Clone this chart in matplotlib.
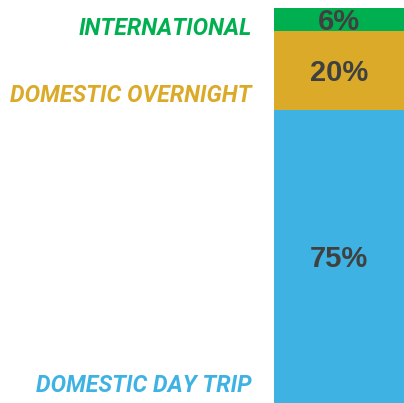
import matplotlib.pyplot as plt

categories = ["DOMESTIC DAY TRIP", "DOMESTIC OVERNIGHT", "INTERNATIONAL"]
values = [75, 20, 6]
pct_labels = ["75%", "20%", "6%"]
colors = ["#3EB3E3", "#DAAA28", "#00B050"]

fig = plt.figure(figsize=(4.04, 4.03), dpi=100)
ax = fig.add_axes([274 / 404, 0, 130 / 404, 395 / 403])

bottom = 0
bottoms = []
for v, c in zip(values, colors):
    ax.bar(0, v, bottom=bottom, width=1, color=c)
    bottoms.append(bottom)
    bottom += v

ax.set_xlim(-0.5, 0.5)
ax.set_ylim(0, sum(values))
ax.axis("off")

# percent labels centred in each segment
for b, v, lab in zip(bottoms, values, pct_labels):
    ax.text(0, b + v / 2 - 0.6, lab, ha="center", va="center", fontsize=21,
            fontweight="bold", color="#404040", family="Liberation Sans")

# category labels to the left of the bar
label_offsets = [2.8, 2.0, -0.9]
for b, off, cat, c in zip(bottoms, label_offsets, categories, colors):
    ax.text(-0.67, b + off, cat, ha="right", va="baseline", fontsize=16.7,
            fontweight="bold", fontstyle="italic", color=c, family="Roboto",
            clip_on=False)

fig.savefig("out.png", dpi=100)
